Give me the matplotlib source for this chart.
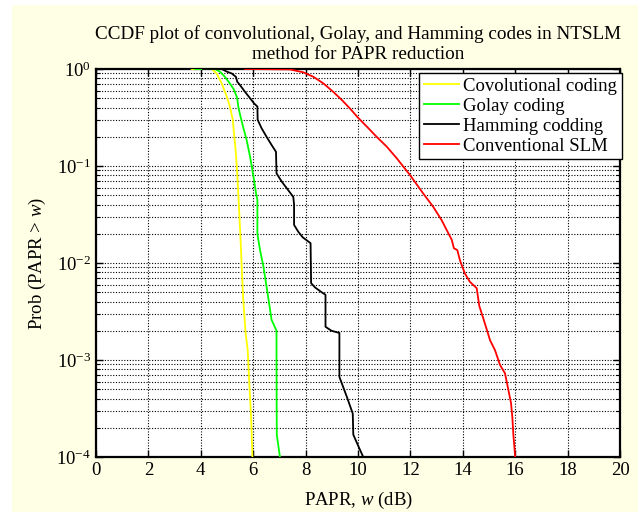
import matplotlib
matplotlib.use("Agg")
import matplotlib.pyplot as plt
from matplotlib.patches import Rectangle
from matplotlib.ticker import LogLocator, FixedLocator, NullFormatter

plt.rcParams['font.family'] = ['Liberation Serif', 'DejaVu Serif']
plt.rcParams['mathtext.fontset'] = 'custom'
plt.rcParams['mathtext.rm'] = 'Liberation Serif'
plt.rcParams['mathtext.it'] = 'Liberation Serif:italic'
plt.rcParams['mathtext.bf'] = 'Liberation Serif:bold'

# ---- data ----
conv_x = [3.65, 4.42, 4.60, 4.80, 4.99, 5.11, 5.22, 5.28, 5.34, 5.39, 5.43, 5.47, 5.52,
          5.56, 5.62, 5.71, 5.79, 5.85, 5.92, 5.97]
conv_p = [1.0, 1.0, 0.90, 0.71, 0.52, 0.41, 0.30, 0.20, 0.135, 0.084, 0.052, 0.032, 0.017,
          0.0092, 0.0042, 0.0019, 0.00126, 0.00058, 0.00026, 0.0001]

golay_x = [3.78, 4.54, 4.73, 4.92, 5.11, 5.27, 5.39, 5.43, 5.52, 5.62, 5.75, 5.88, 6.03,
           6.11, 6.16, 6.16, 6.26, 6.39, 6.51, 6.61, 6.70, 6.79, 6.89, 6.89, 6.90, 7.02]
golay_p = [1.0, 1.0, 0.94, 0.83, 0.71, 0.61, 0.50, 0.41, 0.32, 0.25, 0.185, 0.125, 0.072,
           0.052, 0.045, 0.020, 0.0136, 0.0092, 0.0057, 0.0038, 0.0026, 0.0023, 0.0020,
           0.00085, 0.00017, 0.0001]

hamm_x = [4.08, 4.80, 4.99, 5.18, 5.34, 5.39, 5.50, 5.69, 5.88, 6.04, 6.16, 6.17, 6.32,
          6.51, 6.70, 6.87, 6.89, 7.09, 7.28, 7.53, 7.56, 7.56, 7.72, 7.89, 8.19, 8.21,
          8.36, 8.61, 8.76, 8.76, 8.99, 9.29, 9.29, 9.57, 9.80, 9.82, 10.01, 10.20]
hamm_p = [1.0, 1.0, 0.94, 0.90, 0.83, 0.74, 0.68, 0.58, 0.50, 0.44, 0.41, 0.30, 0.245,
          0.20, 0.165, 0.14, 0.084, 0.069, 0.059, 0.048, 0.040, 0.0247, 0.021, 0.0184,
          0.016, 0.0062, 0.0056, 0.0050, 0.0047, 0.0022, 0.0020, 0.0019, 0.00067,
          0.00042, 0.00028, 0.00017, 0.00013, 0.0001]

slm_x = [5.69, 7.40, 7.91, 8.30, 8.68, 9.06, 9.38, 9.70, 10.00, 10.33, 10.71, 11.10, 11.48,
         11.98, 12.49, 12.87, 13.19, 13.38, 13.58, 13.66, 13.79, 13.89, 13.96, 14.08,
         14.27, 14.53, 14.63, 14.78, 15.04, 15.23, 15.42, 15.61, 15.74, 15.84, 15.89,
         15.93, 16.0]
slm_p = [1.0, 0.99, 0.925, 0.83, 0.71, 0.58, 0.48, 0.39, 0.315, 0.256, 0.20, 0.158, 0.12,
         0.081, 0.052, 0.038, 0.0277, 0.022, 0.0173, 0.0142, 0.0136, 0.0107, 0.0095,
         0.0078, 0.0064, 0.0055, 0.0036, 0.0027, 0.0016, 0.00126, 0.00089, 0.00073,
         0.00049, 0.00036, 0.00026, 0.00017, 0.0001]

labels = ['Covolutional coding', 'Golay coding', 'Hamming codding', 'Conventional SLM']
colors = ['#FFFF00', '#00FF00', '#000000', '#FF0000']
x_ticks = [0, 2, 4, 6, 8, 10, 12, 14, 16, 18, 20]

W, H = 643, 517
fig = plt.figure(figsize=(W / 100, H / 100), dpi=100)
fig.patch.set_facecolor('white')
fig.patches.append(Rectangle((12 / W, 5 / H), (638 - 12) / W, (512 - 5) / H,
                             transform=fig.transFigure, facecolor='#FFFFE6',
                             edgecolor='none', zorder=-10))

ax = fig.add_axes([96 / W, (H - 457) / H, (620 - 96) / W, (457 - 69) / H])
ax.set_facecolor('white')

for xs, ps, c, lab in zip([conv_x, golay_x, hamm_x, slm_x],
                          [conv_p, golay_p, hamm_p, slm_p], colors, labels):
    ax.plot(xs, ps, color=c, lw=1.3, label=lab, zorder=3)

ax.set_yscale('log')
ax.set_xlim(0, 20)
ax.set_ylim(1e-4, 1)
ax.xaxis.set_major_locator(FixedLocator(x_ticks))
ax.yaxis.set_major_locator(LogLocator(base=10, numticks=10))
ax.yaxis.set_minor_locator(LogLocator(base=10, subs=range(2, 10), numticks=20))
ax.yaxis.set_minor_formatter(NullFormatter())

ax.grid(True, which='major', axis='both', color='black', linestyle=(0, (1, 1.5)), lw=0.8)
ax.grid(True, which='minor', axis='y', color='black', linestyle=(0, (1, 1.5)), lw=0.8)

ax.tick_params(which='both', direction='in', top=True, right=True, labelsize=13.5,
               colors='black')
ax.tick_params(which='major', length=5, width=1)
ax.tick_params(which='minor', length=3, width=0.8)
for s in ax.spines.values():
    s.set_linewidth(1.6)

ax.set_xlabel('PAPR, $w$ (dB)', fontsize=13.5, labelpad=8)
ax.set_ylabel('Prob (PAPR > $w$)', fontsize=13.5, labelpad=6)
ax.set_title('CCDF plot of convolutional, Golay, and Hamming codes in NTSLM\nmethod for PAPR reduction',
             fontsize=13.8, linespacing=1.25, pad=7)

leg = ax.legend(loc='upper right', bbox_to_anchor=(622 / W, 1 - 73 / H),
                bbox_transform=fig.transFigure, borderaxespad=0, fontsize=13.5,
                fancybox=False, framealpha=1, edgecolor='black', handlelength=1.85,
                labelspacing=0.15, borderpad=0.25, handletextpad=0.25)
leg.get_frame().set_linewidth(1.0)
leg.set_zorder(5)

fig.savefig('out.png', dpi=100, facecolor=fig.get_facecolor())
